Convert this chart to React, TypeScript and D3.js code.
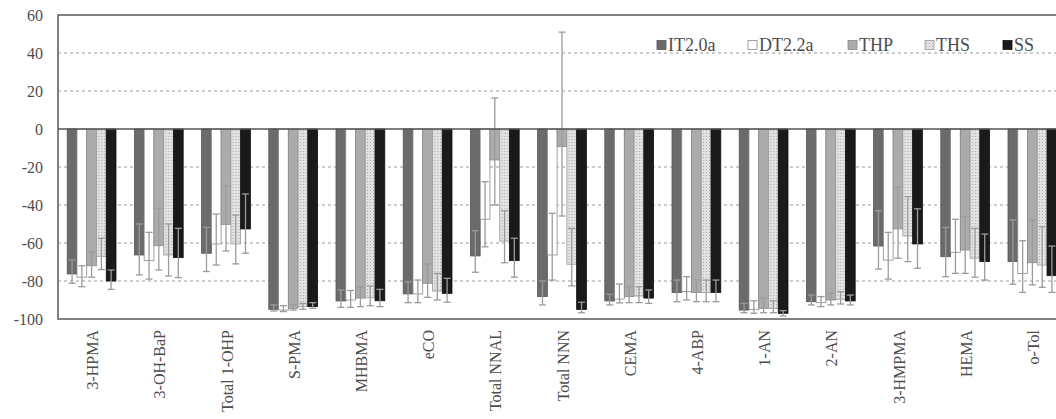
import React, { useEffect, useRef } from 'react';
import * as d3 from 'd3';

const CATEGORIES = [
    "3-HPMA", "3-OH-BaP", "Total 1-OHP", "S-PMA", "MHBMA", "eCO", "Total NNAL",
    "Total NNN", "CEMA", "4-ABP", "1-AN", "2-AN", "3-HMPMA", "HEMA", "o-Tol"
];
const SERIES = ["IT2.0a", "DT2.2a", "THP", "THS", "SS"];

// mean % change per product
const IT_VALUES = [-76.3, -66.3, -65.4, -94.9, -90.5, -86.8, -66.8, -88.2, -90.5, -86.1, -95.3, -90.9, -61.6, -67.2, -69.8];
const DT_VALUES = [-78, -69.3, -60.5, -95.3, -90, -86.8, -47.5, -66.3, -89.5, -85.6, -94.9, -91.4, -69, -64.9, -76];
const THP_VALUES = [-72, -61.4, -50.2, -94.4, -89, -81.2, -16.3, -9.3, -88.2, -86.1, -94.4, -90, -52.6, -63.7, -70.4];
const THS_VALUES = [-67, -66.3, -60.5, -93.5, -88.8, -85.3, -59, -71.2, -87.9, -86.1, -94.4, -89.6, -56.3, -68, -71.6];
const SS_VALUES = [-80, -67.7, -52.6, -93.5, -90.4, -86.5, -69.3, -95, -89, -86.1, -97, -90.5, -60.5, -69.8, -77.2];

// error bar ends (upper / lower)
const IT_HIGH = [-69, -50, -51.8, -92.6, -84.7, -80.4, -53.5, -80, -87, -79.5, -91.8, -87.4, -43, -51.8, -47.9];
const IT_LOW = [-81.2, -76.8, -75, -95.8, -93.9, -91.4, -75.4, -92.6, -92.6, -90.9, -96.7, -92.6, -73.7, -77.7, -81.7];
const DT_HIGH = [-72, -54.4, -44.7, -93, -85, -79.5, -27.7, -44.4, -81.6, -77.7, -90.4, -88.2, -54.4, -47.5, -58.8];
const DT_LOW = [-83, -79, -71.6, -96.1, -93.9, -91.4, -62, -79.5, -91.5, -90, -97, -93.5, -79, -76, -86];
const THP_HIGH = [-64.6, -41.8, -30, -92.6, -83, -71, 16.3, 51, -83, -79.5, -89, -86.5, -30.7, -46.1, -47.9];
const THP_LOW = [-78, -74.2, -64.2, -95.3, -93.5, -88.6, -40, -45.8, -91.4, -90.9, -96.7, -92.6, -68, -76, -82];
const THS_HIGH = [-57.5, -50, -45.3, -91.8, -82.6, -76, -43, -52.3, -83, -79.5, -90.4, -85.6, -35.6, -52.3, -51.4];
const THS_LOW = [-74, -77.4, -71, -94.9, -93, -90, -70.4, -82.6, -91.4, -90.9, -96.7, -92.1, -69.8, -78, -83.3];
const SS_HIGH = [-74.2, -52.3, -34.2, -91.4, -84.4, -78.6, -57.5, -91.2, -84.7, -79.5, -95.6, -87.4, -42, -55.3, -61.6];
const SS_LOW = [-84.4, -78.2, -65.4, -94.4, -93.5, -91.2, -78, -96.7, -91.8, -90.9, -98.4, -92.6, -73.3, -79.5, -86];

const Y_TICKS = [-100, -80, -60, -40, -20, 0, 20, 40, 60];

const FILLS = ["#6b6b6b", "#ffffff", "#ababab", "url(#thsDots)", "#1a1a1a"];
const STROKES = ["#555555", "#8a8a8a", "#8a8a8a", "#9a9a9a", "#111111"];
const FONT = "Liberation Serif, DejaVu Serif, serif";

function App() {
    const svgRef = useRef(null);
    const W = 1056;
    const H = 419;
    const plot = { left: 58, top: 15, bottom: 319 };

    useEffect(() => {
        const svg = d3.select(svgRef.current);
        svg.selectAll("*").remove();

        const valuesBySeries = [IT_VALUES, DT_VALUES, THP_VALUES, THS_VALUES, SS_VALUES];
        const highBySeries = [IT_HIGH, DT_HIGH, THP_HIGH, THS_HIGH, SS_HIGH];
        const lowBySeries = [IT_LOW, DT_LOW, THP_LOW, THS_LOW, SS_LOW];
        const rows = CATEGORIES.map((c, i) => ({
            cat: c,
            bars: SERIES.map((s, j) => ({
                series: s, idx: j,
                v: valuesBySeries[j][i], hi: highBySeries[j][i], lo: lowBySeries[j][i]
            }))
        }));

        const x = d3.scaleBand()
            .domain(CATEGORIES)
            .range([plot.left, plot.left + 15 * 67.2])
            .paddingInner(0.274)
            .paddingOuter(0.137);
        const xs = d3.scaleBand().domain(SERIES).range([0, x.bandwidth()]);
        const y = d3.scaleLinear().domain([-100, 60]).range([plot.bottom, plot.top]);

        const defs = svg.append("defs");
        const pat = defs.append("pattern")
            .attr("id", "thsDots")
            .attr("patternUnits", "userSpaceOnUse")
            .attr("width", 3)
            .attr("height", 3);
        pat.append("rect").attr("width", 3).attr("height", 3).attr("fill", "#e2e2e2");
        pat.append("rect").attr("x", 1).attr("y", 1).attr("width", 1).attr("height", 1).attr("fill", "#a8a8a8");

        svg.append("rect").attr("width", W).attr("height", H).attr("fill", "#ffffff");

        // gridlines
        svg.append("g")
            .selectAll("line")
            .data(Y_TICKS.filter(t => t !== 0 && t !== 60 && t !== -100))
            .join("line")
            .attr("x1", plot.left)
            .attr("x2", W)
            .attr("y1", d => y(d))
            .attr("y2", d => y(d))
            .attr("stroke", "#9a9a9a")
            .attr("stroke-width", 1)
            .attr("stroke-dasharray", "3,3");

        // y tick labels
        svg.append("g")
            .selectAll("text")
            .data(Y_TICKS)
            .join("text")
            .attr("x", 43)
            .attr("y", d => y(d))
            .attr("dy", "0.35em")
            .attr("text-anchor", "end")
            .style("font-family", FONT)
            .style("font-size", "16px")
            .attr("fill", "#4d4d4d")
            .text(d => d);

        // bars
        const groups = svg.append("g")
            .selectAll("g")
            .data(rows)
            .join("g")
            .attr("transform", d => `translate(${x(d.cat)},0)`);

        groups.selectAll("rect")
            .data(d => d.bars)
            .join("rect")
            .attr("x", d => xs(d.series))
            .attr("width", xs.bandwidth())
            .attr("y", d => y(Math.max(0, d.v)))
            .attr("height", d => Math.abs(y(d.v) - y(0)))
            .attr("fill", d => FILLS[d.idx])
            .attr("stroke", d => STROKES[d.idx])
            .attr("stroke-width", 0.8);

        // error bars
        const eb = groups.selectAll("g.err")
            .data(d => d.bars)
            .join("g")
            .attr("class", "err")
            .attr("stroke", "#9b9b9b")
            .attr("stroke-width", 1.3);
        const cx = d => xs(d.series) + xs.bandwidth() / 2;
        eb.append("line")
            .attr("x1", cx).attr("x2", cx)
            .attr("y1", d => y(d.lo)).attr("y2", d => y(d.hi));
        eb.append("line")
            .attr("x1", d => cx(d) - 3.5).attr("x2", d => cx(d) + 3.5)
            .attr("y1", d => y(d.lo)).attr("y2", d => y(d.lo));
        eb.append("line")
            .attr("x1", d => cx(d) - 3.5).attr("x2", d => cx(d) + 3.5)
            .attr("y1", d => y(d.hi)).attr("y2", d => y(d.hi));

        // zero line and frame
        svg.append("line")
            .attr("x1", plot.left).attr("x2", W)
            .attr("y1", y(0)).attr("y2", y(0))
            .attr("stroke", "#555555").attr("stroke-width", 1.5);
        svg.append("rect")
            .attr("x", plot.left)
            .attr("y", plot.top)
            .attr("width", 15 * 67.2)
            .attr("height", plot.bottom - plot.top)
            .attr("fill", "none")
            .attr("stroke", "#5a5a5a")
            .attr("stroke-width", 1.5);

        // category labels
        svg.append("g")
            .selectAll("text")
            .data(CATEGORIES)
            .join("text")
            .attr("transform", d => `translate(${x(d) + x.bandwidth() / 2 + 1},330) rotate(-90)`)
            .attr("dy", "0.35em")
            .attr("text-anchor", "end")
            .style("font-family", FONT)
            .style("font-size", "16px")
            .attr("fill", "#4d4d4d")
            .text(d => d);

        // legend
        const legendX = [657, 748, 848, 925, 1003];
        const legend = svg.append("g")
            .selectAll("g")
            .data(SERIES)
            .join("g")
            .attr("transform", (d, i) => `translate(${legendX[i]},45)`);
        legend.append("rect")
            .attr("x", 0).attr("y", -4.5)
            .attr("width", 9).attr("height", 9)
            .attr("fill", (d, i) => FILLS[i])
            .attr("stroke", (d, i) => STROKES[i])
            .attr("stroke-width", 0.8);
        legend.append("text")
            .attr("x", 11)
            .attr("y", 0)
            .attr("dy", "0.35em")
            .style("font-family", FONT)
            .style("font-size", "18px")
            .attr("fill", "#4d4d4d")
            .text(d => d);
    }, []);

    return (
        <svg
            ref={svgRef}
            width={W}
            height={H}
            style={{ position: "absolute", left: 0, top: 0 }}
        />
    );
}

export default App
